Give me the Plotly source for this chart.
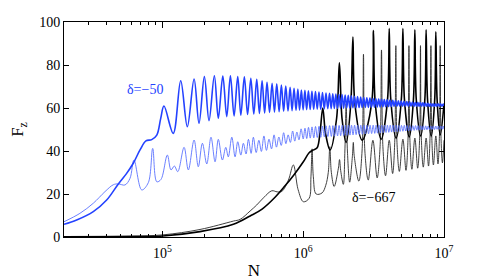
import numpy as np
import plotly.graph_objects as go

# ---------------- data (x stored as log10(N), y = F_z) ----------------
blue_thick_log10N = [
    4.301, 4.391, 4.509, 4.604, 4.687, 4.746, 4.793, 4.841, 4.883, 4.924, 4.960, 4.988, 5.011,
    5.077, 5.130, 5.177, 5.225, 5.260, 5.298, 5.331, 5.369, 5.397, 5.429,
    5.457, 5.483, 5.509, 5.535, 5.557, 5.582, 5.605, 5.628, 5.649, 5.670,
    5.689, 5.708, 5.726, 5.743, 5.761, 5.779, 5.796, 5.812, 5.829, 5.845,
    5.861, 5.876, 5.892, 5.907, 5.921, 5.935, 5.949, 5.962, 5.974, 5.987,
    5.9995, 6.012, 6.0245, 6.037, 6.0495, 6.062, 6.0745, 6.087, 6.0995, 6.112,
    6.1245, 6.137, 6.1495, 6.162, 6.1745, 6.187, 6.1985, 6.210, 6.221, 6.232,
    6.243, 6.254, 6.265, 6.276, 6.287, 6.298, 6.309, 6.320, 6.331, 6.342,
    6.353, 6.364, 6.375, 6.386, 6.397, 6.408, 6.419, 6.430, 6.441, 6.452,
    6.463, 6.474, 6.485, 6.496, 6.506, 6.516, 6.526, 6.536, 6.546, 6.556,
    6.566, 6.576, 6.586, 6.596, 6.606, 6.616, 6.626, 6.636, 6.646, 6.656,
    6.666, 6.676, 6.686, 6.696, 6.706, 6.716, 6.726, 6.736, 6.746, 6.756,
    6.766, 6.776, 6.786, 6.796, 6.805, 6.814, 6.823, 6.832, 6.841, 6.850,
    6.859, 6.868, 6.877, 6.886, 6.895, 6.904, 6.913, 6.922, 6.931, 6.940,
    6.949, 6.958, 6.967, 6.976, 6.985, 6.994, 7.0,
]
blue_thick_F = [
    5.9, 7.9, 11.8, 17.2, 24.7, 29.6, 34.3, 40.5, 44.7, 45.3, 47.4, 55.2, 60.9,
    48.2, 72.7, 51.3, 73.5, 52.9, 74.6, 54.1, 75.0, 55.2, 74.9,
    56.0, 75.0, 56.3, 74.6, 56.7, 74.5, 57.0, 73.8, 57.2, 73.3,
    57.5, 72.7, 57.7, 72.0, 57.9, 71.5, 58.1, 71.2, 58.3, 70.7,
    58.5, 70.2, 58.6, 69.6, 58.8, 69.2, 58.9, 68.8, 59.0, 68.4,
    59.1, 68.2, 59.2, 68.0, 59.3, 67.8, 59.4, 67.6, 59.5, 67.4,
    59.5, 67.2, 59.6, 67.0, 59.7, 66.8, 59.7, 66.6, 59.8, 66.5,
    59.8, 66.3, 59.9, 66.2, 59.9, 66.0, 60.0, 65.9, 60.0, 65.7,
    60.1, 65.5, 60.1, 65.3, 60.2, 65.1, 60.2, 64.9, 60.3, 64.8,
    60.3, 64.6, 60.4, 64.4, 60.4, 64.3, 60.5, 64.2, 60.5, 64.0,
    60.6, 63.9, 60.6, 63.8, 60.7, 63.7, 60.7, 63.6, 60.8, 63.5,
    60.8, 63.3, 60.8, 63.2, 60.8, 63.1, 60.8, 63.0, 60.8, 62.9,
    60.8, 62.8, 60.8, 62.7, 60.8, 62.6, 60.8, 62.5, 60.8, 62.4,
    60.8, 62.3, 60.8, 62.2, 60.8, 62.1, 60.8, 62.0, 60.8, 62.0,
    60.8, 61.9, 60.8, 61.9, 60.8, 61.8, 61.0,
]

blue_thin_log10N = [
    4.301, 4.414, 4.509, 4.592, 4.651, 4.687, 4.734, 4.770, 4.798, 4.853,
    4.900, 4.931, 4.960, 4.990, 5.035, 5.061, 5.085, 5.109, 5.154, 5.184,
    5.225, 5.255, 5.284, 5.315, 5.345, 5.374, 5.397, 5.426, 5.450, 5.468,
    5.493, 5.516, 5.535, 5.557, 5.575, 5.594, 5.611, 5.630, 5.646,
    5.666, 5.685, 5.703, 5.721, 5.739, 5.757, 5.775, 5.793, 5.810, 5.827,
    5.844, 5.861, 5.877, 5.893, 5.909, 5.925, 5.940, 5.955, 5.970, 5.985, 6.000,
    6.0125, 6.025, 6.0375, 6.050, 6.0625, 6.075, 6.0875, 6.100, 6.1125, 6.125,
    6.1375, 6.150, 6.1625, 6.175, 6.1875, 6.200, 6.211, 6.222, 6.233, 6.244,
    6.255, 6.266, 6.277, 6.288, 6.299, 6.310, 6.321, 6.332, 6.343, 6.354,
    6.365, 6.376, 6.387, 6.398, 6.409, 6.420, 6.431, 6.442, 6.453, 6.464,
    6.475, 6.486, 6.497, 6.508, 6.518, 6.528, 6.538, 6.548, 6.558, 6.568,
    6.578, 6.588, 6.598, 6.608, 6.618, 6.628, 6.638, 6.648, 6.658, 6.668,
    6.678, 6.688, 6.698, 6.708, 6.718, 6.728, 6.738, 6.748, 6.758, 6.768,
    6.778, 6.788, 6.798, 6.807, 6.816, 6.825, 6.834, 6.843, 6.852, 6.861,
    6.870, 6.879, 6.888, 6.897, 6.906, 6.915, 6.924, 6.933, 6.942, 6.951,
    6.960, 6.969, 6.978, 6.987, 6.996, 7.0,
]
blue_thin_F = [
    7.1, 11.0, 15.7, 21.1, 24.3, 24.7, 24.2, 27.3, 35.8, 21.9,
    25.3, 41.2, 25.7, 26.8, 38.1, 31.2, 33.0, 30.4, 41.7, 31.2,
    45.1, 32.7, 43.6, 34.0, 46.4, 35.0, 45.4, 35.8, 41.7, 37.3,
    46.4, 37.3, 44.3, 38.1, 43.6, 38.6, 45.4, 38.9, 46.4,
    39.3, 45.0, 39.8, 47.0, 40.3, 45.5, 41.0, 47.5, 41.8, 46.5,
    42.6, 48.5, 43.4, 47.5, 44.0, 49.3, 44.6, 48.8, 45.2, 50.3, 45.6,
    50.6, 45.8, 51.0, 46.0, 51.2, 46.1, 51.4, 46.3, 51.5, 46.4,
    51.6, 46.6, 51.7, 46.7, 51.8, 46.8, 51.8, 46.9, 51.9, 47.0,
    51.9, 47.1, 52.0, 47.2, 52.0, 47.3, 52.0, 47.4, 52.0, 47.5,
    52.0, 47.6, 52.0, 47.7, 52.0, 47.8, 52.0, 47.9, 52.0, 48.0,
    52.0, 48.1, 52.0, 48.2, 52.0, 48.3, 52.0, 48.4, 52.0, 48.5,
    52.0, 48.6, 52.0, 48.7, 52.0, 48.8, 52.0, 48.9, 52.0, 49.0,
    51.9, 49.1, 51.9, 49.2, 51.9, 49.3, 51.9, 49.4, 51.8, 49.5,
    51.8, 49.6, 51.8, 49.7, 51.8, 49.7, 51.7, 49.8, 51.7, 49.8,
    51.7, 49.9, 51.6, 49.9, 51.6, 50.0, 51.6, 50.0, 51.6, 50.1,
    51.6, 50.1, 51.6, 50.1, 51.6, 50.2,
]

black_thick_log10N = [
    4.301, 4.770, 5.004, 5.267, 5.504, 5.623, 5.708, 5.800, 5.871, 5.935,
    6.001, 6.042, 6.070, 6.099,
    6.120, 6.139, 6.159, 6.191, 6.237, 6.257, 6.276, 6.305,
    6.338, 6.353, 6.367, 6.419, 6.486, 6.499, 6.512, 6.554,
    6.599, 6.611, 6.622, 6.660, 6.697, 6.708, 6.719, 6.753,
    6.783, 6.793, 6.803, 6.834, 6.864, 6.873, 6.883, 6.909,
    6.934, 6.942, 6.951, 6.973, 7.0,
]
black_thick_F = [
    0.05, 0.2, 0.5, 2.5, 5.9, 9.8, 13.0, 18.5, 23.8, 29.0,
    35.0, 39.2, 40.4, 41.5,
    49, 60, 48, 40.5, 55, 81, 55, 44,
    62, 93, 62, 45, 62, 96, 62, 45.5,
    64, 97, 64, 46, 64, 97, 64, 46.5,
    64, 96.4, 64, 47, 64, 96.4, 64, 47,
    64, 95.5, 64, 47.5, 62,
]

black_thin_log10N = [
    4.301, 4.770, 5.004, 5.267, 5.504, 5.552, 5.623, 5.670, 5.722, 5.777,
    5.815, 5.848, 5.895, 5.930, 5.964, 6.001, 6.042, 6.055, 6.063, 6.072,
    6.092, 6.134,
    6.160, 6.178, 6.189, 6.200, 6.220, 6.250, 6.258, 6.266, 6.285, 6.296,
    6.305, 6.314, 6.330, 6.350, 6.356, 6.362, 6.395, 6.418, 6.428, 6.438,
    6.462, 6.495, 6.525, 6.546, 6.556, 6.566, 6.585, 6.611, 6.635, 6.650,
    6.658, 6.666, 6.683, 6.708, 6.730, 6.744, 6.751, 6.758, 6.772, 6.793,
    6.813, 6.827, 6.833, 6.839, 6.853, 6.873, 6.890, 6.901, 6.907, 6.913,
    6.925, 6.942, 6.957, 6.968, 6.973, 6.978, 6.989, 7.0,
]
black_thin_F = [
    0.1, 0.4, 1.0, 3.5, 7.4, 8.2, 12.1, 14.9, 18.5, 21.5,
    21.0, 21.2, 26.5, 33.5, 22.0, 16.4, 18.0, 28.0, 41.0, 28.0,
    20.0, 20.5,
    24, 30, 42, 30, 23.5, 32, 36, 31, 24.5, 40,
    62, 40, 25.5, 38, 44, 38, 26, 40, 85, 40,
    26.5, 45, 27.5, 42, 87, 42, 28.5, 45, 29.5, 44,
    89, 44, 30.5, 45.5, 31, 45, 89, 45, 31.5, 46,
    32, 46, 89, 46, 32.5, 46, 33, 47, 89, 47,
    33.5, 47, 34, 48, 89, 48, 34.5, 45,
]

x_tick_values = [1e5, 1e6, 1e7]
x_tick_text = ["10<sup>5</sup>", "10<sup>6</sup>", "10<sup>7</sup>"]
y_tick_values = [0, 20, 40, 60, 80, 100]

# ---------------- figure ----------------
FONT = "Liberation Serif, Times New Roman, serif"
fig = go.Figure()


def add_curve(logN, F, color, width):
    assert len(logN) == len(F)
    fig.add_trace(go.Scatter(
        x=10 ** np.array(logN), y=F, mode="lines",
        line=dict(color=color, width=width, shape="spline", smoothing=1.0),
        showlegend=False, hoverinfo="skip"))


add_curve(black_thin_log10N, black_thin_F, "#2a2a2a", 0.9)
add_curve(black_thick_log10N, black_thick_F, "#000000", 1.6)
add_curve(blue_thin_log10N, blue_thin_F, "#5a72ff", 0.9)
add_curve(blue_thick_log10N, blue_thick_F, "#2442ff", 1.6)

minor_vals = [m * 10 ** e for e in (4, 5, 6) for m in range(2, 10) if m * 10 ** e > 2.05e4]

# the page body adds an 8px offset: figure is 8px smaller, left/top margins reduced by 8
fig.update_layout(
    width=483, height=272,
    margin=dict(l=56, r=47, t=14, b=43),
    paper_bgcolor="white", plot_bgcolor="white",
    font=dict(family=FONT, size=14, color="black"),
    xaxis=dict(
        type="log", range=[np.log10(2e4), 7],
        tickmode="array", tickvals=x_tick_values, ticktext=x_tick_text,
        ticks="inside", ticklen=6, tickwidth=1, tickcolor="black",
        minor=dict(tickmode="array", tickvals=minor_vals, ticks="inside",
                   ticklen=3, tickwidth=1, tickcolor="black", showgrid=False),
        showline=True, linecolor="black", linewidth=1, mirror="ticks",
        showgrid=False, zeroline=False, automargin=False, ticklabelstandoff=3,
        tickfont=dict(family=FONT, size=14, color="black"),
        title=dict(text="N", font=dict(family=FONT, size=17, color="black"), standoff=5),
    ),
    yaxis=dict(
        range=[0, 100], tickmode="array", tickvals=y_tick_values,
        ticks="inside", ticklen=5, tickwidth=1, tickcolor="black",
        showline=True, linecolor="black", linewidth=1, mirror="ticks",
        showgrid=False, zeroline=False, automargin=False,
        tickfont=dict(family=FONT, size=14, color="black"),
        title=dict(text="F<sub>z</sub>", font=dict(family=FONT, size=17, color="black"), standoff=25),
    ),
    annotations=[
        dict(x=4.876, y=68.4, xref="x", yref="y", text="δ=−50", showarrow=False,
             font=dict(family=FONT, size=14, color="#2442ff")),
        dict(x=6.500, y=18.4, xref="x", yref="y", text="δ=−667", showarrow=False,
             font=dict(family=FONT, size=14, color="black")),
    ],
)

fig.write_html("out.html")
